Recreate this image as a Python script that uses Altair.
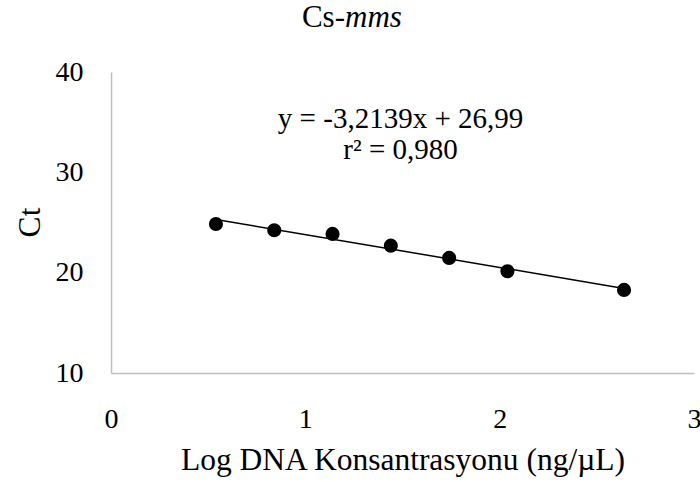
import altair as alt
import pandas as pd

# Data
log_conc = [0.54, 0.84, 1.14, 1.44, 1.74, 2.04, 2.64]
ct_values = [24.85, 24.23, 23.86, 22.69, 21.47, 20.14, 18.28]
eq_lines = ["y = -3,2139x + 26,99", "r² = 0,980"]
eq_x = [1.49, 1.49]
eq_y = [34.4, 31.3]

FONT = "Liberation Serif"

df = pd.DataFrame({"x": log_conc, "ct": ct_values})
eq_df = pd.DataFrame({"x": eq_x, "y": eq_y, "t": eq_lines})

xscale = alt.Scale(domain=[0, 3], nice=False, zero=False)
yscale = alt.Scale(domain=[10, 40], nice=False, zero=False)

xaxis = alt.Axis(
    title="Log DNA Konsantrasyonu (ng/µL)",
    values=[0, 1, 2, 3], format="d", grid=False, ticks=False,
    domainColor="#bfbfbf", domainWidth=1.5,
    labelFont=FONT, labelFontSize=28, labelColor="black", labelPadding=32,
    labelFlush=False, labelOverlap=False,
    titleFont=FONT, titleFontSize=31.5, titleFontWeight="normal", titleColor="black",
    titleY=96, titleBaseline="alphabetic",
)
yaxis = alt.Axis(
    title="Ct",
    values=[10, 20, 30, 40], format="d", grid=False, ticks=False,
    domainColor="#bfbfbf", domainWidth=1.5,
    labelFont=FONT, labelFontSize=28, labelColor="black", labelPadding=28,
    labelFlush=False, labelOverlap=False,
    titleFont=FONT, titleFontSize=31.5, titleFontWeight="normal", titleColor="black",
    titleX=-81, titleY=150, titleBaseline="middle", titleAngle=-90,
)

base = alt.Chart(df)

points = base.mark_point(filled=True, shape="circle", size=200, color="black", opacity=1).encode(
    x=alt.X("x:Q", scale=xscale, axis=xaxis),
    y=alt.Y("ct:Q", scale=yscale, axis=yaxis),
)

trend = base.transform_regression("x", "ct").mark_line(color="black", strokeWidth=1.5).encode(
    x=alt.X("x:Q", scale=xscale),
    y=alt.Y("ct:Q", scale=yscale),
)

eq = alt.Chart(eq_df).mark_text(font=FONT, fontSize=29, color="black", align="center", baseline="alphabetic").encode(
    x=alt.X("x:Q", scale=xscale),
    y=alt.Y("y:Q", scale=yscale),
    text="t:N",
)

title_a = alt.Chart(pd.DataFrame({"t": ["Cs-"]})).mark_text(
    font=FONT, fontSize=31, color="black", align="right", baseline="alphabetic"
).encode(x=alt.value(234), y=alt.value(-45), text="t:N")
title_b = alt.Chart(pd.DataFrame({"t": ["mms"]})).mark_text(
    font=FONT, fontSize=31, fontStyle="italic", color="black", align="left", baseline="alphabetic"
).encode(x=alt.value(234), y=alt.value(-45), text="t:N")

chart = alt.layer(trend, points, eq, title_a, title_b).properties(
    width=583, height=301,
    padding={"left": 111, "top": 72, "right": 6, "bottom": 109},
    autosize=alt.AutoSizeParams(type="none"),
    background="white",
).configure_view(stroke=None)

chart.save("out.html", embed_options={"renderer": "svg", "actions": False})
